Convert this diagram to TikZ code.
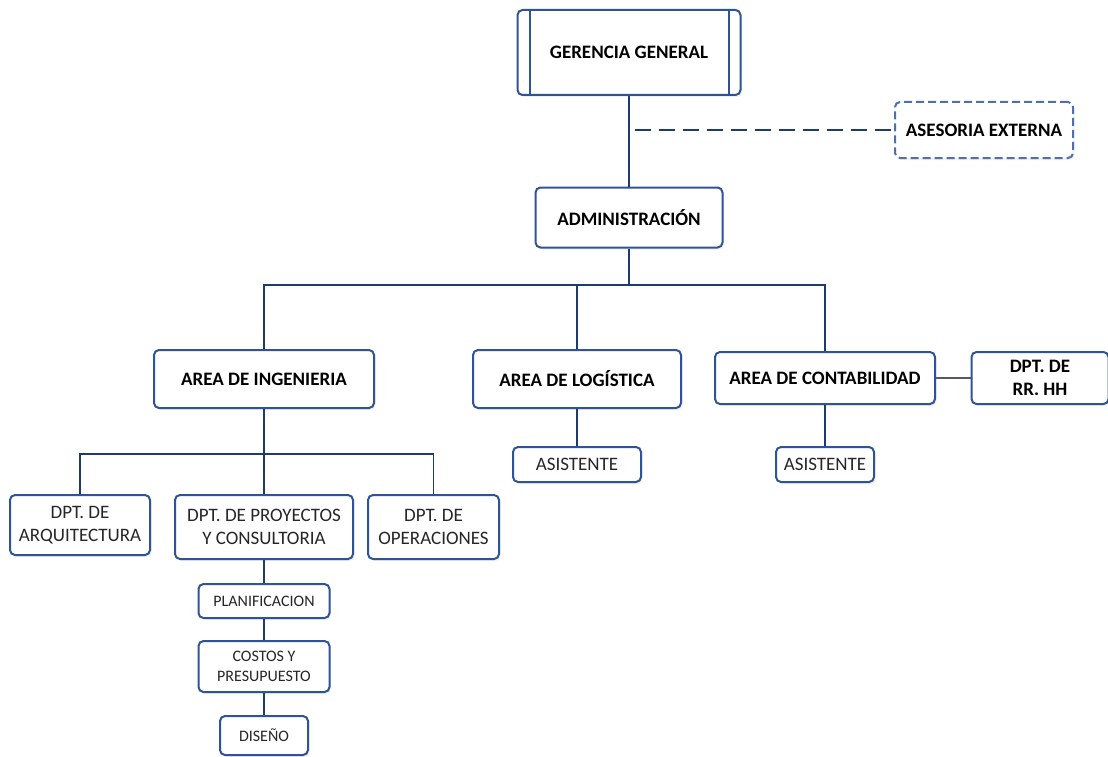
\documentclass[tikz,border=0pt]{standalone}
\usepackage{fontspec}
\setmainfont{Carlito}
\usepackage{tikz}
\usetikzlibrary{shapes,positioning,calc,shadows}

\definecolor{boxblue}{HTML}{2F5496}
\definecolor{dashblue}{HTML}{4F6FAD}
\definecolor{linenavy}{HTML}{1F3A6E}
\definecolor{linegray}{HTML}{595959}

\begin{document}
\begin{tikzpicture}[
    x=1pt, y=-1pt,
    every node/.style={font=\fontsize{19}{23}\selectfont},
    unit/.style={rectangle, draw=boxblue, line width=2pt, fill=white, rounded corners=5pt, align=center, inner sep=2pt,
        drop shadow={opacity=0.12, shadow xshift=1.5pt, shadow yshift=-2pt}},
    head/.style={unit, font=\fontsize{19}{23}\selectfont\bfseries},
    dept/.style={unit, text=black!85},
    task/.style={unit, text=black!85, font=\fontsize{16}{20}\selectfont},
    conn/.style={draw=linenavy, line width=1.1pt},
    advisor/.style={draw=linenavy, line width=1.1pt, dash pattern=on 16pt off 8pt}
]
\useasboundingbox (0,0) rectangle (1108,757);

% top
\node[head, minimum width=223pt, minimum height=85pt] (ger) at (629,52.5) {GERENCIA GENERAL};
\draw[boxblue, line width=2pt] ($(ger.north west)+(13,0)$) -- ($(ger.south west)+(13,0)$);
\draw[boxblue, line width=2pt] ($(ger.north east)+(-13,0)$) -- ($(ger.south east)+(-13,0)$);
\node[head, draw=dashblue, dash pattern=on 8pt off 4pt, minimum width=178pt, minimum height=56pt] (ase) at (984,130) {ASESORIA EXTERNA};
\node[head, minimum width=187pt, minimum height=60pt] (adm) at (629,217.5) {ADMINISTRACIÓN};

% areas
\node[head, minimum width=220pt, minimum height=58pt] (ing) at (264,379) {AREA DE INGENIERIA};
\node[head, minimum width=208pt, minimum height=58pt] (log) at (577,379) {AREA DE LOGÍSTICA};
\node[head, minimum width=220pt, minimum height=52pt] (con) at (825,378) {AREA DE CONTABILIDAD};
\node[head, minimum width=137pt, minimum height=52pt] (rrhh) at (1040,378) {DPT. DE\\RR. HH};

\node[dept, minimum width=128pt, minimum height=35pt] (asilog) at (577,464.5) {ASISTENTE};
\node[dept, minimum width=98pt, minimum height=35pt] (asicon) at (825,464.5) {ASISTENTE};

% departamentos
\node[dept, minimum width=140pt, minimum height=60pt] (arq) at (80,525) {DPT. DE\\ARQUITECTURA};
\node[dept, minimum width=178pt, minimum height=64pt] (pro) at (264,527) {DPT. DE PROYECTOS\\Y CONSULTORIA};
\node[dept, minimum width=131pt, minimum height=64pt] (ope) at (433.5,527) {DPT. DE\\OPERACIONES};

\node[task, minimum width=131pt, minimum height=34pt] (pla) at (264,601) {PLANIFICACION};
\node[task, minimum width=131pt, minimum height=51pt] (cos) at (264,666.5) {COSTOS Y\\PRESUPUESTO};
\node[task, minimum width=88pt, minimum height=39pt] (dis) at (264,735.5) {DISEÑO};

% connectors
\coordinate (admbar) at (629,285);
\coordinate (ingbar) at (264,454);

\draw[conn] (ger.south) -- (adm.north);
\draw[advisor] ($(ger.south |- ase.west)+(6,0)$) -- (ase.west);
\draw[conn] (adm.south) -- (admbar) -| (ing.north);
\draw[conn] (admbar) -| (con.north);
\draw[conn] (log.north |- admbar) -- (log.north);
\draw[draw=linegray, line width=1.3pt] (con.east) -- (rrhh.west);
\draw[conn] (log.south) -- (asilog.north);
\draw[conn] (con.south) -- (asicon.north);

\draw[conn] (ing.south) -- (ingbar) -| (arq.north);
\draw[conn] (ingbar) -| (ope.north);
\draw[conn] (ingbar) -- (pro.north);
\draw[conn] (pro.south) -- (pla.north);
\draw[conn] (pla.south) -- (cos.north);
\draw[conn] (cos.south) -- (dis.north);

\end{tikzpicture}
\end{document}
